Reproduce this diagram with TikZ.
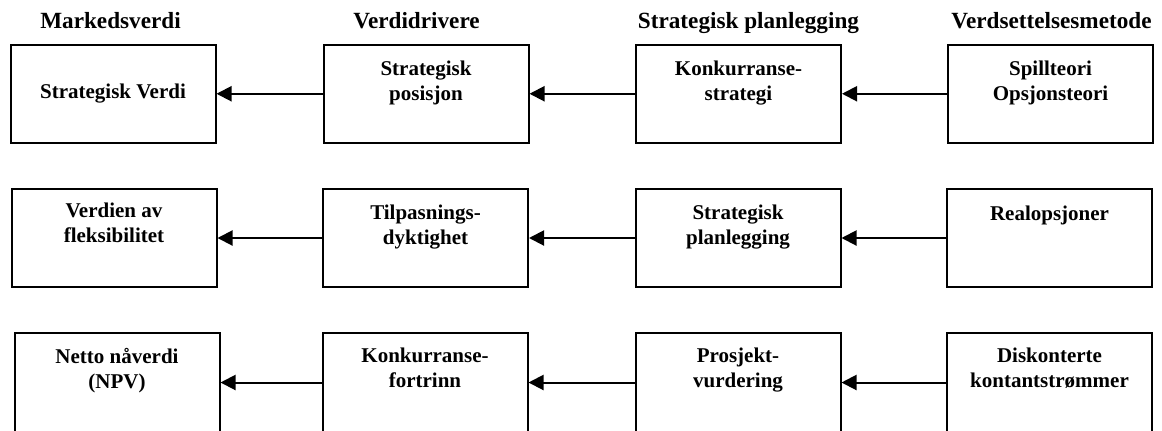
\documentclass[tikz,border=0pt]{standalone}
\usepackage{fontspec}
\setmainfont{Liberation Serif}
\usetikzlibrary{positioning,arrows.meta}

\begin{document}
\begin{tikzpicture}[x=0.5pt,y=-0.5pt,
    box/.style={draw, line width=1pt, rectangle, inner sep=0pt,
                minimum width=102.5pt, minimum height=49.25pt},
    txt/.style={anchor=north, inner sep=0pt, align=center,
                font=\fontsize{10.5}{12.5}\selectfont\bfseries},
    head/.style={anchor=base, inner sep=0pt,
                 font=\fontsize{11.6}{14}\selectfont\bfseries},
    flow/.style={-{Triangle[length=7.5pt,width=7.5pt]}, line width=1pt}]
    % Fix the page to the size of the figure
    \useasboundingbox (0,0) rectangle (1162,430);

    % Column headings
    \node[head] (hmarked) at (110.5,28) {Markedsverdi};
    \node[head] (hdriver) at (416.5,28) {Verdidrivere};
    \node[head] (hplan) at (748.5,28) {Strategisk planlegging};
    \node[head] (hmetode) at (1051.5,28) {Verdsettelsesmetode};

    % Row 1: strategic value
    \node[box] (a1) at (113,93.75) {};
    \node[box] (a2) at (426,93.75) {};
    \node[box] (a3) at (738.5,93.75) {};
    \node[box] (a4) at (1050.5,93.75) {};
    \node[txt, below=20.25pt of a1.north] (a1t) {Strategisk Verdi};
    \node[txt, below=8.75pt of a2.north] (a2t) {Strategisk\\posisjon};
    \node[txt, below=8.75pt of a3.north] (a3t) {Konkurranse-\\strategi};
    \node[txt, below=8.5pt of a4.north] (a4t) {Spillteori\\Opsjonsteori};

    % Row 2: flexibility
    \node[box] (b1) at (114,238) {};
    \node[box] (b2) at (425.5,238) {};
    \node[box] (b3) at (738,238) {};
    \node[box] (b4) at (1049.5,238) {};
    \node[txt, below=7.5pt of b1.north] (b1t) {Verdien av\\fleksibilitet};
    \node[txt, below=8.5pt of b2.north] (b2t) {Tilpasnings-\\dyktighet};
    \node[txt, below=8.5pt of b3.north] (b3t) {Strategisk\\planlegging};
    \node[txt, below=8.75pt of b4.north] (b4t) {Realopsjoner};

    % Row 3: net present value
    \node[box] (c1) at (117,382.5) {};
    \node[box] (c2) at (425,382.5) {};
    \node[box] (c3) at (738,382.5) {};
    \node[box] (c4) at (1049.5,382.5) {};
    \node[txt, below=7.75pt of c1.north] (c1t) {Netto nåverdi\\(NPV)};
    \node[txt, below=7.75pt of c2.north] (c2t) {Konkurranse-\\fortrinn};
    \node[txt, below=7.75pt of c3.north] (c3t) {Prosjekt-\\vurdering};
    \node[txt, below=7.75pt of c4.north] (c4t) {Diskonterte\\kontantstrømmer};

    % Arrows run from right to left
    \draw[flow] (a2.west) -- (a1.east);
    \draw[flow] (a3.west) -- (a2.east);
    \draw[flow] (a4.west) -- (a3.east);
    \draw[flow] (b2.west) -- (b1.east);
    \draw[flow] (b3.west) -- (b2.east);
    \draw[flow] (b4.west) -- (b3.east);
    \draw[flow] (c2.west) -- (c1.east);
    \draw[flow] (c3.west) -- (c2.east);
    \draw[flow] (c4.west) -- (c3.east);
\end{tikzpicture}
\end{document}
